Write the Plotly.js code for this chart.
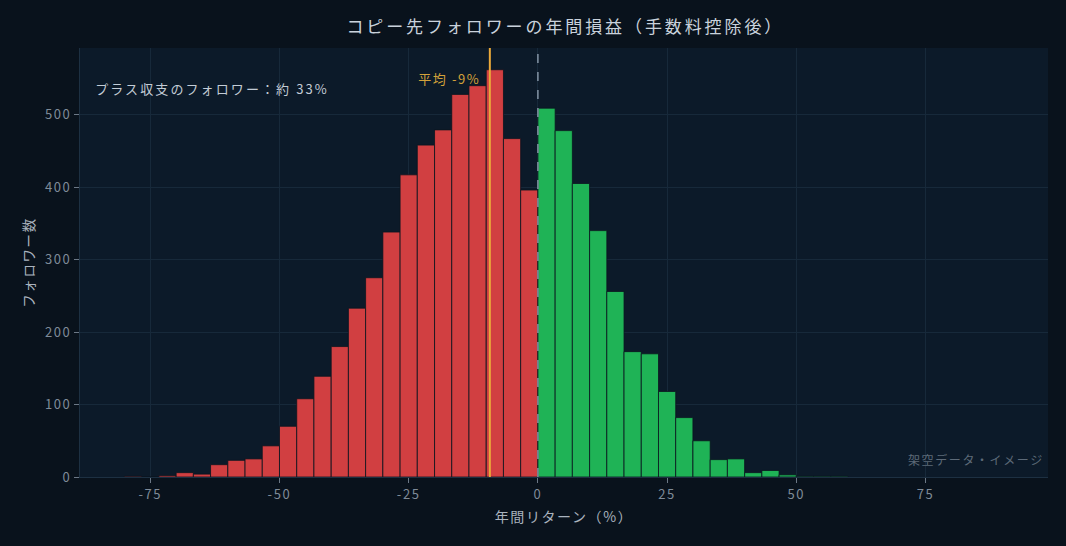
<!DOCTYPE html>
<html>
<head>
<meta charset="utf-8">
<script src="https://cdn.plot.ly/plotly-3.0.1.min.js"></script>
<style>
html,body{margin:0;padding:0;background:#09121c;}
#chart{width:1066px;height:546px;}
#chart text{letter-spacing:1.6px;}
#chart .gtitle{letter-spacing:2.9px;}
#chart g.annotation[data-index="1"] text{letter-spacing:2.1px;}
</style>
</head>
<body>
<div id="chart"></div>
<script>
// Bin centres (bin width 10/3 %) and follower counts
const lossBinCenters = [-78.33, -75.0, -71.67, -68.33, -65.0, -61.67, -58.33, -55.0, -51.67, -48.33, -45.0, -41.67, -38.33, -35.0, -31.67, -28.33, -25.0, -21.67, -18.33, -15.0, -11.67, -8.33, -5.0, -1.67];
const lossCounts     = [1, 0, 2, 6, 4, 17, 23, 25, 43, 70, 108, 139, 180, 233, 275, 338, 417, 458, 479, 528, 540, 562, 467, 396];
const gainBinCenters = [1.67, 5.0, 8.33, 11.67, 15.0, 18.33, 21.67, 25.0, 28.33, 31.67, 35.0, 38.33, 41.67, 45.0, 48.33, 51.67, 55.0, 58.33];
const gainCounts     = [509, 478, 405, 340, 256, 173, 170, 118, 82, 50, 24, 25, 6, 9, 3, 1, 1, 1];
const binWidth = 10 / 3;
const meanReturn = -9.3;
const meanLabel = '平均 -9%';
const positiveShareLabel = 'プラス収支のフォロワー：約 33%';
const xTicks = [-75, -50, -25, 0, 25, 50, 75];

const font = '"Noto Sans CJK JP", "Noto Sans", sans-serif';
const outline = {color: '#0b1520', width: 0.8};

const traces = [
  {type: 'bar', x: lossBinCenters, y: lossCounts, width: binWidth,
   marker: {color: '#d13f41', line: outline}, hoverinfo: 'x+y', showlegend: false},
  {type: 'bar', x: gainBinCenters, y: gainCounts, width: binWidth,
   marker: {color: '#1fb356', line: outline}, hoverinfo: 'x+y', showlegend: false}
];

const layout = {
  width: 1066, height: 546,
  paper_bgcolor: '#09121c',
  plot_bgcolor: '#0c1a29',
  font: {family: font, color: '#8592a0', size: 13},
  margin: {l: 80, r: 18, t: 48, b: 69},
  bargap: 0,
  barmode: 'overlay',
  title: {text: 'コピー先フォロワーの年間損益（手数料控除後）', x: 0.5303, xanchor: 'center', y: 0.95, yanchor: 'middle',
          font: {family: font, size: 17, color: '#c9d2dc'}},
  xaxis: {
    range: [-88.6, 98.7], tickvals: xTicks, ticktext: xTicks.map(String),
    showgrid: true, gridcolor: '#17293a', gridwidth: 1, zeroline: false,
    ticks: 'outside', ticklen: 5, tickcolor: '#6c7886', showline: true, linecolor: '#1d3042',
    tickfont: {size: 13, color: '#7f8b98'},
    title: {text: '年間リターン（%）', font: {size: 14, color: '#a9b3be'}, standoff: 10}
  },
  yaxis: {
    range: [0, 592], dtick: 100,
    showgrid: true, gridcolor: '#17293a', gridwidth: 1, zeroline: false,
    ticks: 'outside', ticklen: 5, tickcolor: '#6c7886', showline: true, linecolor: '#1d3042',
    tickfont: {size: 13, color: '#7f8b98'},
    title: {text: 'フォロワー数', font: {size: 13.5, color: '#a9b3be'}, standoff: 12}
  },
  shapes: [
    {type: 'line', xref: 'x', yref: 'paper', x0: meanReturn, x1: meanReturn, y0: 0, y1: 1,
     line: {color: '#eaa93a', width: 2}},
    {type: 'line', xref: 'x', yref: 'paper', x0: 0, x1: 0, y0: 0, y1: 1,
     line: {color: '#8494a5', width: 1.5, dash: 'dash'}}
  ],
  annotations: [
    {xref: 'x', yref: 'paper', x: meanReturn, y: 0.93, xanchor: 'right', yanchor: 'middle', xshift: -11.5,
     text: meanLabel, showarrow: false, font: {size: 13, color: '#d4a23a'}},
    {xref: 'paper', yref: 'paper', x: 0.016, y: 0.906, xanchor: 'left', yanchor: 'middle', xshift: 16,
     text: positiveShareLabel, showarrow: false, font: {size: 13, color: '#c3ccd6'}},
    {xref: 'paper', yref: 'paper', x: 0.995, y: 0.04, xanchor: 'right', yanchor: 'middle', xshift: -5,
     text: '架空データ・イメージ', showarrow: false, font: {size: 12, color: '#5d6a78'}}
  ]
};

Plotly.newPlot('chart', traces, layout, {displayModeBar: false, staticPlot: true});
</script>
</body>
</html>
